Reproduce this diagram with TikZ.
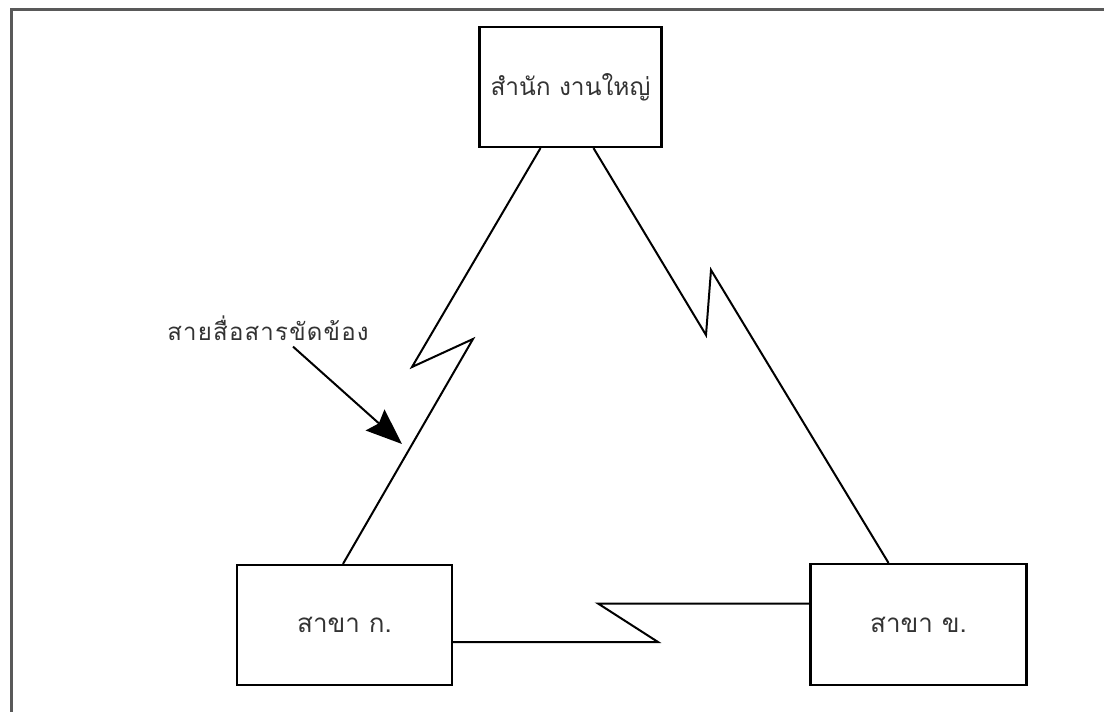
\documentclass[tikz,border=0pt]{standalone}
\usepackage{fontspec}
\usetikzlibrary{arrows.meta,calc}
\newfontfamily\thaifont[Script=Thai]{Loma}
\begin{document}
\begin{tikzpicture}[x=1pt,y=-1pt,
  office/.style={draw, line width=2.2pt, inner sep=0pt, text=black!80},
  link/.style={line width=2pt, line join=miter},
  frameline/.style={line width=3pt, black!65}]
  \useasboundingbox (0,0) rectangle (1104,712);
  % page frame (left and top edges)
  \draw[frameline] (11,712) -- (11,9) -- (1104,9);

  % offices
  \node[office, font=\thaifont\fontsize{24.5}{28}\selectfont, minimum width=182pt, minimum height=120pt] (hq) at (570.5,87) {สำนัก งานใหญ่};
  \node[office, font=\thaifont\fontsize{26}{30}\selectfont, minimum width=215pt, minimum height=120pt] (ka) at (344.5,625) {สาขา ก.};
  \node[office, font=\thaifont\fontsize{26}{30}\selectfont, minimum width=216pt, minimum height=121pt] (kh) at (918.5,624.5) {สาขา ข.};

  % communication lines with break zigzags
  \draw[link] ($(hq.south)+(-30,0)$) -- (412,367) -- (473,339) -- ($(ka.north)+(-1.5,0)$);
  \draw[link] ($(hq.south)+(23,0)$) -- (706,335) -- (711,270) -- ($(kh.north)+(-30,0)$);
  \draw[link] ($(kh.west)+(0,-21)$) -- (598,603.5) -- (658,642) -- ($(ka.east)+(0,17)$);

  % label with pointer to the faulty line
  \node[font=\thaifont\fontsize{24}{28}\selectfont\addfontfeature{LetterSpace=5}, text=black!80, inner sep=0pt] (lbl) at (268,328) {สายสื่อสารขัดข้อง};
  \coordinate (tip) at (402,444);
  \draw[line width=2pt, -{Stealth[length=36pt,width=28pt,inset=5pt]}] ($(lbl.south)+(25,6)$) -- (tip);
\end{tikzpicture}
\end{document}
